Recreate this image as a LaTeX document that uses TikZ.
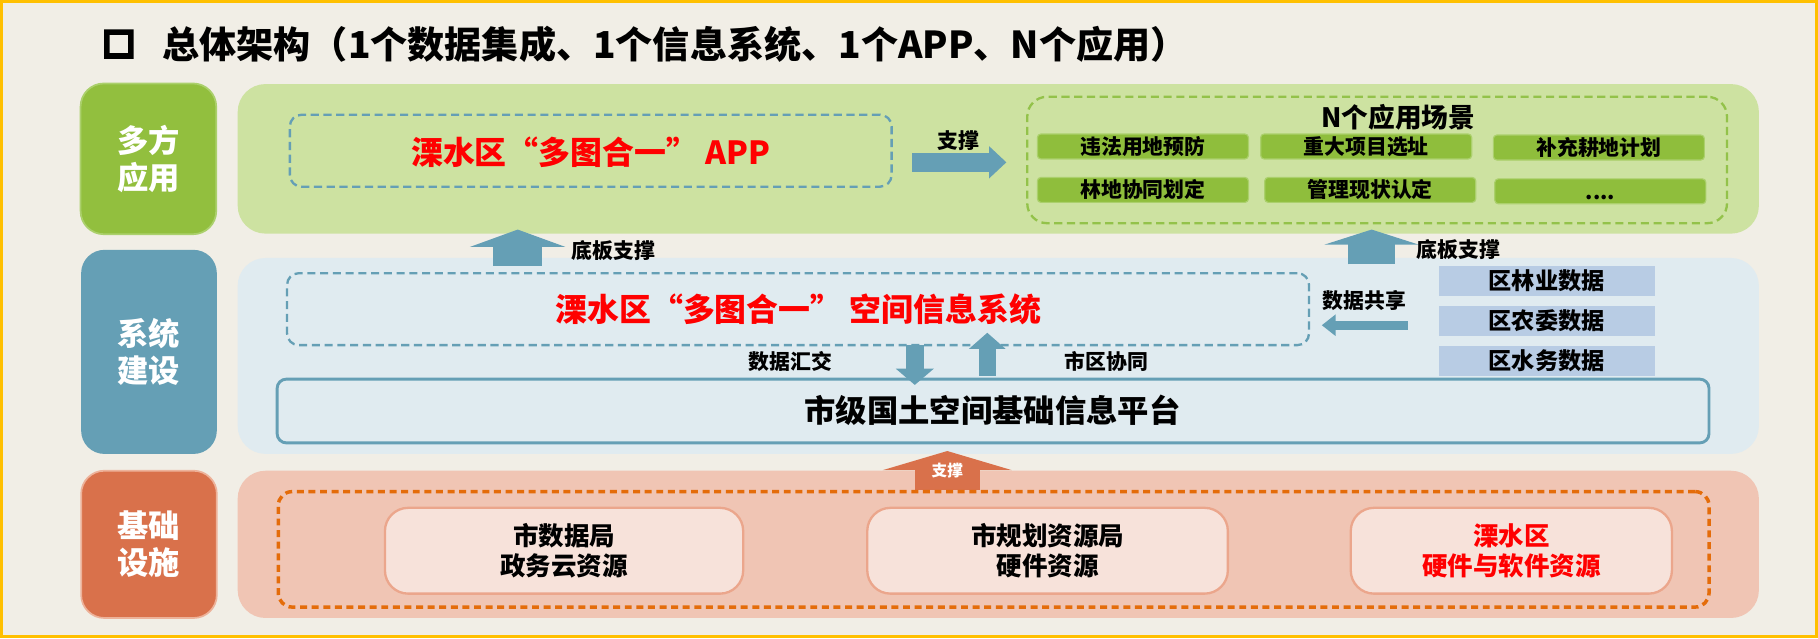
\documentclass[tikz,border=0pt]{standalone}
\usepackage{fontspec}
\setmainfont{Noto Sans CJK SC}
\newfontface\sqfont{Noto Sans CJK SC}[FakeBold=14]
\usetikzlibrary{arrows.meta,calc}
\definecolor{bgc}{HTML}{F1EEE6}
\definecolor{gold}{HTML}{FFC000}
\definecolor{gdark}{HTML}{92BF3E}
\definecolor{gdarkline}{HTML}{ABD06C}
\definecolor{glight}{HTML}{CDE2A1}
\definecolor{gdash}{HTML}{93C24A}
\definecolor{gbox}{HTML}{8FBE3C}
\definecolor{bdark}{HTML}{659FB5}
\definecolor{blight}{HTML}{E0EBF0}
\definecolor{odark}{HTML}{D9714B}
\definecolor{odarkline}{HTML}{EDB29A}
\definecolor{olight}{HTML}{F0C5B4}
\definecolor{odash}{HTML}{E46C0A}
\definecolor{obox}{HTML}{F7E2DA}
\definecolor{oboxline}{HTML}{EBA68C}
\definecolor{dbox}{HTML}{B8CCE4}
\definecolor{redtxt}{HTML}{FF0000}
\tikzset{
  lefttag/.style={rounded corners=20pt, text=white, align=center, inner sep=0pt,
    minimum width=117pt, font=\fontsize{27}{31.5}\selectfont\bfseries},
  panel/.style={rounded corners=24pt, inner sep=0pt, minimum width=1312pt},
  dashbox/.style={rounded corners=10pt, inner sep=0pt, line width=2pt, dash pattern=on 7pt off 4pt},
  smallbox/.style={fill=gbox, draw=gdarkline, line width=1pt, rounded corners=3pt, inner sep=0pt,
    minimum width=182pt, minimum height=21.5pt, font=\fontsize{18}{20}\selectfont\bfseries},
  databox/.style={fill=dbox, inner sep=0pt, minimum width=186pt, minimum height=26pt,
    font=\fontsize{20}{22}\selectfont\bfseries},
  resbox/.style={fill=obox, draw=oboxline, line width=2pt, rounded corners=20pt, inner sep=0pt,
    minimum height=74pt, align=center, font=\fontsize{22}{25.5}\selectfont\bfseries},
  smalllbl/.style={inner sep=0pt, font=\fontsize{18}{20}\selectfont\bfseries},
  bigred/.style={inner sep=0pt, text=redtxt, font=\fontsize{27.5}{30}\selectfont\bfseries},
}
\begin{document}
\begin{tikzpicture}[x=1pt,y=-1pt]
\useasboundingbox (0,0) rectangle (1568,550.3);
\fill[bgc] (0,0) rectangle (1568,550.3);
\draw[gold,line width=3pt] (1.5,1.5) rectangle (1566.5,548.8);

% title
\node[inner sep=0pt, font=\fontsize{27}{32}\sqfont] (sq) at (102.5,38) {□};
\node[inner sep=0pt, anchor=west, font=\fontsize{32}{36}\selectfont\bfseries] (title) at (140,38)
  {总体架构（1个数据集成、1个信息系统、1个APP、N个应用）};

% left tags
\node[lefttag, fill=gdark, draw=gdarkline, line width=1.5pt, minimum height=130pt] (tag1) at (128,137) {多方\\应用};
\node[lefttag, fill=bdark, minimum height=176pt] (tag2) at (128.5,303.5) {系统\\建设};
\node[lefttag, fill=odark, draw=odarkline, line width=1.5pt, minimum height=127pt] (tag3) at (128.5,469.5) {基础\\设施};

% panels
\node[panel, fill=glight, minimum height=129pt] (p1) at (861,137) {};
\node[panel, fill=blight, minimum height=169pt] (p2) at (861,307) {};
\node[panel, fill=olight, minimum height=127pt] (p3) at (861,469.5) {};

% ---- top layer
\node[dashbox, draw=bdark, minimum width=519pt, minimum height=62pt] (app) at (509.5,130) {};
\node[bigred] (apptxt) at (509.5,131) {溧水区“多图合一” APP};

\node[dashbox, draw=gdash, rounded corners=17pt, minimum width=603.5pt, minimum height=109pt] (napps) at (1187.75,138) {};
\node[inner sep=0pt, font=\fontsize{23}{26}\selectfont\bfseries] (ntitle) at (1206,101) {N个应用场景};
\node[smallbox] (a1) at (985.75,126.35) {违法用地预防};
\node[smallbox] (a2) at (1178.3,126.35) {重大项目选址};
\node[smallbox] (a3) at (1379,127.25) {补充耕地计划};
\node[smallbox] (b1) at (985.75,163.8) {林地协同划定};
\node[smallbox] (b2) at (1181.8,163.8) {管理现状认定};
\node[smallbox] (b3) at (1380.25,165) {\vphantom{林}....};

\coordinate (s1) at (787,140);
\coordinate (s2) at (868,140);
\draw[bdark, line width=16pt, -{Triangle[width=27pt,length=15pt]}] (s1) -- (s2);
\node[smalllbl] (s1lbl) at (827,121) {支撑};

% ---- middle layer
\coordinate (u1a) at (446.5,229);
\coordinate (u1b) at (446.5,198);
\draw[bdark, line width=42pt, -{Triangle[width=82pt,length=15pt]}] (u1a) -- (u1b);
\node[smalllbl] (u1lbl) at (529,216) {底板支撑};
\coordinate (u2a) at (1183,228);
\coordinate (u2b) at (1183,198);
\draw[bdark, line width=41pt, -{Triangle[width=81pt,length=13pt]}] (u2a) -- (u2b);
\node[smalllbl] (u2lbl) at (1258,215) {底板支撑};

\node[dashbox, draw=bdark, minimum width=881.4pt, minimum height=62pt] (sys) at (688.3,266.65) {};
\node[bigred] (systxt) at (688.5,267) {溧水区“多图合一” 空间信息系统};

\node[databox] (d1) at (1334,242.3) {区林业数据};
\node[databox] (d2) at (1334,277) {区农委数据};
\node[databox] (d3) at (1334,311.5) {区水务数据};

\coordinate (sh1) at (1214,280.5);
\coordinate (sh2) at (1140,280.5);
\draw[bdark, line width=8pt, -{Triangle[width=18pt,length=12pt]}] (sh1) -- (sh2);
\node[smalllbl] (shlbl) at (1177,259) {数据共享};

\node[fill=blight, draw=bdark, line width=2.5pt, rounded corners=8pt, inner sep=0pt,
  minimum width=1235pt, minimum height=55pt] (plat) at (856.5,354.5) {};
\node[inner sep=0pt, font=\fontsize{27}{30}\selectfont\bfseries] (plattxt) at (856,354) {市级国土空间基础信息平台};

\coordinate (dn1) at (789,297.6);
\coordinate (dn2) at (789,332);
\draw[bdark, line width=16pt, -{Triangle[width=32pt,length=14pt]}] (dn1) -- (dn2);
\node[smalllbl] (dnlbl) at (681.5,312) {数据汇交};
\coordinate (up1) at (851.5,324);
\coordinate (up2) at (851.5,287);
\draw[bdark, line width=15pt, -{Triangle[width=31pt,length=14pt]}] (up1) -- (up2);
\node[smalllbl] (uplbl) at (954.5,312) {市区协同};

% ---- bottom layer
\coordinate (o1a) at (817,423);
\coordinate (o1b) at (817,389);
\draw[odark, line width=56pt, -{Triangle[width=111pt,length=16.5pt]}] (o1a) -- (o1b);
\node[inner sep=0pt, text=white, font=\fontsize{13.5}{15}\selectfont\bfseries] (olbl) at (817,406) {支撑};

\node[rounded corners=12pt, inner sep=0pt, draw=odash, line width=3pt, dash pattern=on 6pt off 4pt,
  minimum width=1234pt, minimum height=99.6pt] (infra) at (857,473.8) {};
\node[resbox, minimum width=309pt] (r1) at (486.5,475) {市数据局\\政务云资源};
\node[resbox, minimum width=311pt] (r2) at (903.5,475) {市规划资源局\\硬件资源};
\node[resbox, minimum width=277pt, text=redtxt] (r3) at (1303.5,475) {溧水区\\硬件与软件资源};
\end{tikzpicture}
\end{document}
